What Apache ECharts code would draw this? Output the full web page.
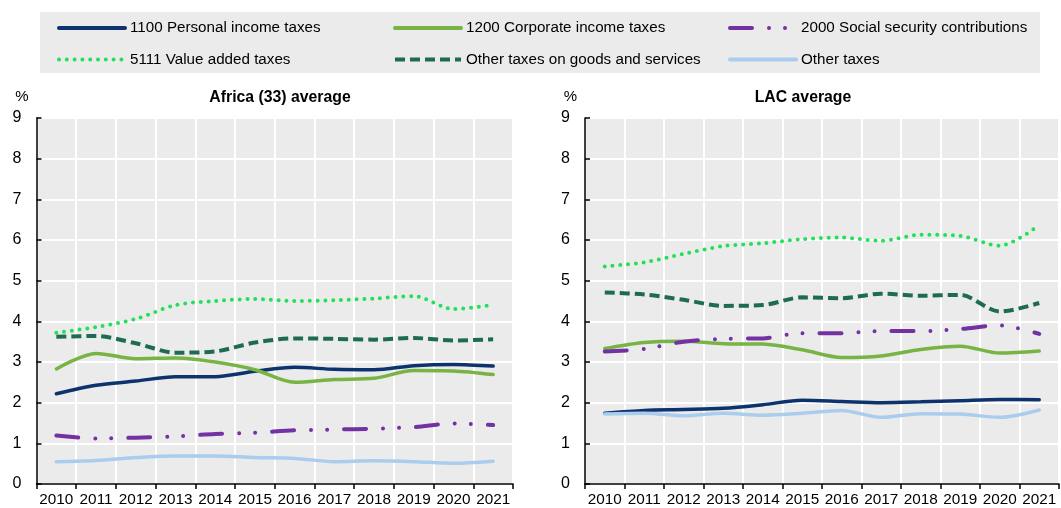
<!DOCTYPE html>
<html>
<head>
<meta charset="utf-8">
<script src="https://cdn.jsdelivr.net/npm/echarts@6/dist/echarts.min.js"></script>
<style>
html,body{margin:0;padding:0;background:#fff;}
#chart{width:1061px;height:508px;}
</style>
</head>
<body>
<div id="chart"></div>
<script>
// ---- Data ----
const years = ['2010','2011','2012','2013','2014','2015','2016','2017','2018','2019','2020','2021'];
const yTicks = [0, 9, 1]; // min, max, interval
const panelTitles = ['Africa (33) average', 'LAC average'];
const seriesNames = [
  '1100 Personal income taxes',
  '1200 Corporate income taxes',
  '2000 Social security contributions',
  '5111 Value added taxes',
  'Other taxes on goods and services',
  'Other taxes'
];
// Africa (33) average
const afPIT = [2.22,2.43,2.53,2.64,2.64,2.77,2.87,2.82,2.81,2.91,2.94,2.90];
const afCIT = [2.83,3.21,3.08,3.10,3.00,2.81,2.50,2.57,2.60,2.79,2.78,2.69];
const afSSC = [1.19,1.12,1.14,1.17,1.23,1.26,1.32,1.34,1.36,1.40,1.49,1.45];
const afVAT = [3.72,3.86,4.06,4.40,4.50,4.55,4.50,4.52,4.56,4.62,4.30,4.41];
const afOGS = [3.62,3.64,3.46,3.23,3.26,3.48,3.58,3.57,3.55,3.59,3.53,3.56];
const afOTH = [0.55,0.58,0.65,0.69,0.69,0.65,0.63,0.55,0.57,0.55,0.51,0.56];
// LAC average
const lacPIT = [1.74,1.81,1.83,1.86,1.95,2.06,2.03,2.00,2.02,2.05,2.08,2.07];
const lacCIT = [3.33,3.48,3.51,3.45,3.44,3.30,3.11,3.15,3.31,3.39,3.22,3.27];
const lacSSC = [3.26,3.32,3.50,3.57,3.58,3.71,3.71,3.76,3.76,3.81,3.90,3.69];
const lacVAT = [5.35,5.45,5.66,5.85,5.92,6.02,6.06,5.98,6.13,6.10,5.86,6.37];
const lacOGS = [4.71,4.66,4.53,4.38,4.40,4.59,4.57,4.68,4.63,4.65,4.24,4.45];
const lacOTH = [1.72,1.74,1.68,1.74,1.69,1.74,1.81,1.64,1.73,1.72,1.64,1.82];

const panelData = [
  [afPIT, afCIT, afSSC, afVAT, afOGS, afOTH],
  [lacPIT, lacCIT, lacSSC, lacVAT, lacOGS, lacOTH]
];

// ---- Styles ----
const FONT = '"Liberation Sans", Arial, sans-serif';
const lineStyles = [
  {color:'#0c336e', width:3.5, type:'solid', cap:'round'},
  {color:'#78b443', width:3.5, type:'solid', cap:'round'},
  {color:'#7232a3', width:4, type:[22,17,0,16,0,17], cap:'round'},
  {color:'#22e05a', width:4, type:[0,7.8], cap:'round'},
  {color:'#1e6b55', width:4, type:[10,5], cap:'butt'},
  {color:'#aacdee', width:3.5, type:'solid', cap:'round'}
];

const grids = [
  {left:36.5, right:548, top:118, bottom:24, show:true, backgroundColor:'#ebebeb', borderWidth:0, containLabel:false},
  {left:585, right:2, top:118, bottom:24, show:true, backgroundColor:'#ebebeb', borderWidth:0, containLabel:false}
];

const xAxes = grids.map((g,i)=>({
  type:'category', gridIndex:i, data:years, boundaryGap:true,
  axisLine:{show:true, lineStyle:{color:'#000', width:1.5}},
  axisTick:{show:true, inside:false, length:5, interval:0, lineStyle:{color:'#000', width:1.5}},
  axisLabel:{show:true, interval:0, color:'#000', fontSize:15.3, fontFamily:FONT, margin:8},
  splitLine:{show:true, interval:0, lineStyle:{color:'#fff', width:2}}
}));

const yAxes = grids.map((g,i)=>({
  type:'value', gridIndex:i, min:yTicks[0], max:yTicks[1], interval:yTicks[2],
  name:'%', nameLocation:'end', nameGap:14,
  nameTextStyle:{color:'#000', fontSize:15, fontFamily:FONT, align:'right', padding:[0,8,0,0]},
  axisLine:{show:true, lineStyle:{color:'#000', width:1.5}},
  axisTick:{show:true, inside:true, length:5, lineStyle:{color:'#000', width:1.5}},
  axisLabel:{show:true, color:'#000', fontSize:16, fontFamily:FONT, margin:15},
  splitLine:{show:true, lineStyle:{color:'#fff', width:2}}
}));

const series = [];
panelData.forEach((arrs, p)=>{
  arrs.forEach((arr, k)=>{
    series.push({
      name: seriesNames[k], type:'line', xAxisIndex:p, yAxisIndex:p,
      data: arr, symbol:'none', showSymbol:false, smooth:0.3,
      lineStyle: Object.assign({}, lineStyles[k]),
      itemStyle:{color: lineStyles[k].color},
      emphasis:{disabled:true}, animation:false
    });
  });
});

const legendCommon = {
  orient:'vertical', top:20.5, padding:0, itemWidth:66, itemHeight:14, itemGap:16.6,
  itemStyle:{opacity:0, borderWidth:0},
  lineStyle:{width:4},
  textStyle:{color:'#000', fontSize:15.2, fontFamily:FONT, lineHeight:14},
  selectedMode:false
};
const legends = [
  Object.assign({}, legendCommon, {left:57, data:[seriesNames[0], seriesNames[3]]}),
  Object.assign({}, legendCommon, {left:393, data:[seriesNames[1], seriesNames[4]]}),
  Object.assign({}, legendCommon, {left:728, data:[seriesNames[2], seriesNames[5]]})
];

const option = {
  animation:false,
  backgroundColor:'#fff',
  textStyle:{fontFamily:FONT},
  graphic:[{type:'rect', left:40, top:12, shape:{width:1000, height:61}, style:{fill:'#ebebeb'}, z:-1, silent:true}],
  title:[
    {text:panelTitles[0], left:280, top:90, padding:0, textAlign:'center', textStyle:{fontSize:15.8, fontWeight:'bold', color:'#000', fontFamily:FONT}},
    {text:panelTitles[1], left:803, top:90, padding:0, textAlign:'center', textStyle:{fontSize:15.8, fontWeight:'bold', color:'#000', fontFamily:FONT}}
  ],
  legend: legends,
  grid: grids,
  xAxis: xAxes,
  yAxis: yAxes,
  series: series
};

const chart = echarts.init(document.getElementById('chart'), null, {renderer:'canvas'});
chart.setOption(option);
</script>
</body>
</html>
